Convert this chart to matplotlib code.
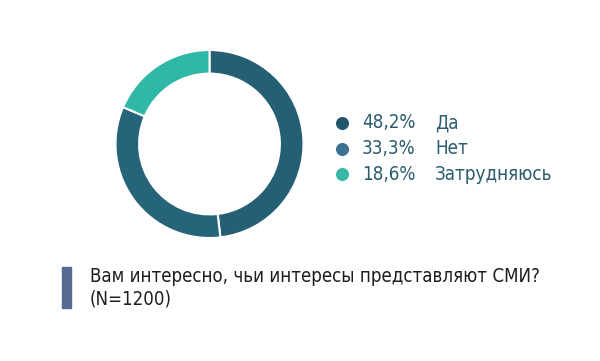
import matplotlib
matplotlib.use('Agg')
import matplotlib.pyplot as plt
from matplotlib.patches import Rectangle

# Survey answers
labels = ['Да', 'Нет', 'Затрудняюсь']
shares = [48.2, 33.3, 18.6]
share_labels = ['48,2%', '33,3%', '18,6%']
slice_colors = ['#255f74', '#26647a', '#2fb8a6']
dot_colors = ['#22566b', '#3a7290', '#36b8a5']
question = 'Вам интересно, чьи интересы представляют СМИ?'
sample = '(N=1200)'

plt.rcParams['font.family'] = ['DejaVu Sans']

fig = plt.figure(figsize=(6, 3.61), dpi=100)

# Donut chart, placed in pixel terms
cx, cy, half = 209.5, 144, 100
ax = fig.add_axes([(cx - half) / 600, (361 - cy - half) / 361, 2 * half / 600, 2 * half / 361])
ax.pie(shares, colors=slice_colors, startangle=90, counterclock=False, radius=94,
       wedgeprops=dict(width=23.6, edgecolor='white', linewidth=1.5))
ax.set_xlim(-half, half)
ax.set_ylim(-half, half)
ax.set_aspect('auto')
ax.axis('off')

# Overlay for legend and caption
ov = fig.add_axes([0, 0, 1, 1])
ov.set_xlim(0, 600)
ov.set_ylim(361, 0)
ov.axis('off')

text_color = '#2b5c6e'
for i, (lab, pct) in enumerate(zip(labels, share_labels)):
    y = 123 + i * 25.5
    ov.scatter([342], [y], s=70, color=dot_colors[i], zorder=3)
    ov.text(362, y, pct, fontsize=13.5, color=text_color, va='center', ha='left', fontstretch='condensed')
    ov.text(435, y, lab, fontsize=13.5, color=text_color, va='center', ha='left', fontstretch='condensed')

ov.add_patch(Rectangle((62, 267), 9, 41, color='#566a92'))
ov.text(90, 276, question, fontsize=13.4, color='#1e1e1e', va='center', ha='left', fontstretch='condensed')
ov.text(90, 299, sample, fontsize=13.4, color='#1e1e1e', va='center', ha='left', fontstretch='condensed')

fig.savefig('out.png', dpi=100)
